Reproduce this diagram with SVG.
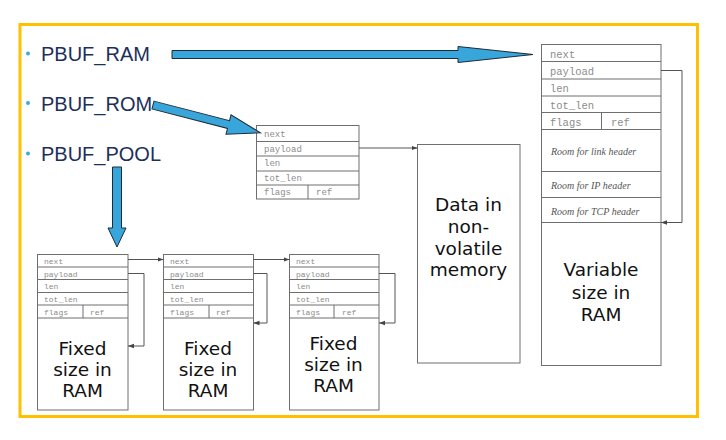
<svg xmlns="http://www.w3.org/2000/svg" width="726" height="440" viewBox="0 0 726 440">
<style>
.box{fill:#fff;stroke:#6f6f6f;stroke-width:1}
.ln{stroke:#6f6f6f;stroke-width:1;fill:none}
.mono{font-family:"Liberation Mono","DejaVu Sans Mono",monospace;fill:#8c8c8c}
.room{font-family:"Liberation Serif","DejaVu Serif",serif;font-style:italic;font-size:10px;fill:#555}
.big{font-family:"DejaVu Sans",Verdana,sans-serif;font-size:18.5px;fill:#111;text-anchor:middle}
.pb{font-family:"Liberation Sans",Arial,sans-serif;font-size:20px;fill:#1c2f5c}
.blue{fill:#38a6da;stroke:#1e2b38;stroke-width:1;stroke-linejoin:miter}
.conn{stroke:#555;stroke-width:1;fill:none}
</style>
<defs>
<marker id="ah" markerWidth="6" markerHeight="6" refX="6" refY="3" orient="auto" markerUnits="userSpaceOnUse">
<path d="M0,0.8 L6,3 L0,5.2 z" fill="#444"/>
</marker>
</defs>
<rect x="0" y="0" width="726" height="440" fill="#fff"/>
<rect x="20" y="24.5" width="677.5" height="392" fill="none" stroke="#ffc000" stroke-width="3"/>

<g id="labels">
<circle cx="28" cy="53.5" r="2" fill="#3fa9db"/>
<text class="pb" x="41" y="61">PBUF_RAM</text>
<circle cx="28" cy="103" r="2" fill="#3fa9db"/>
<text class="pb" x="41" y="110.5">PBUF_ROM</text>
<circle cx="28" cy="153.5" r="2" fill="#3fa9db"/>
<text class="pb" x="41" y="160.5">PBUF_POOL</text>
</g>

<g id="pbuf-ram">
<rect class="box" x="541.5" y="44.5" width="119.5" height="321"/>
<path class="ln" d="M541.5,61.5H661M541.5,79H661M541.5,96H661M541.5,112.5H661M541.5,129.5H661M541.5,171.5H661M541.5,197.5H661M541.5,222.5H661M601.5,112.5V129.5"/>
<g class="mono" font-size="10.5">
<text x="550" y="57.5">next</text>
<text x="550" y="75">payload</text>
<text x="550" y="92">len</text>
<text x="550" y="108.5">tot_len</text>
<text x="550" y="125.5">flags</text>
<text x="611" y="125.5">ref</text>
</g>
<text class="room" x="551" y="155">Room for link header</text>
<text class="room" x="551" y="188.5">Room for IP header</text>
<text class="room" x="551" y="215">Room for TCP header</text>
<text class="big" x="601" y="276">Variable</text>
<text class="big" x="601" y="298.5">size in</text>
<text class="big" x="601" y="321">RAM</text>
</g>

<g id="pbuf-rom">
<rect class="box" x="256.5" y="125.5" width="102.5" height="73.5"/>
<path class="ln" d="M256.5,141.5H359M256.5,156H359M256.5,171H359M256.5,185H359M308,185V199"/>
<g class="mono" font-size="9">
<text x="264" y="137">next</text>
<text x="264" y="151.5">payload</text>
<text x="264" y="166">len</text>
<text x="264" y="180.5">tot_len</text>
<text x="264" y="195">flags</text>
<text x="316" y="195">ref</text>
</g>
</g>

<g id="rom-data">
<rect class="box" x="417.5" y="144.5" width="102.5" height="218.5"/>
<text class="big" x="468.5" y="211">Data in</text>
<text class="big" x="468.5" y="233">non-</text>
<text class="big" x="468.5" y="255">volatile</text>
<text class="big" x="468.5" y="276">memory</text>
</g>

<g id="pool-1">
<rect class="box" x="37.5" y="254.5" width="90.5" height="155.5"/>
<path class="ln" d="M37.5,267H128M37.5,279.5H128M37.5,292.5H128M37.5,305H128M37.5,318H128M83,305V318"/>
<g class="mono" font-size="8">
<text x="44" y="263.5">next</text>
<text x="44" y="276.5">payload</text>
<text x="44" y="289">len</text>
<text x="44" y="302">tot_len</text>
<text x="44" y="315">flags</text>
<text x="90" y="315">ref</text>
</g>
<text class="big" x="82.5" y="355">Fixed</text>
<text class="big" x="82.5" y="376">size in</text>
<text class="big" x="82.5" y="397">RAM</text>
</g>

<g id="pool-2">
<rect class="box" x="163.5" y="254.5" width="90" height="155.5"/>
<path class="ln" d="M163.5,267H253.5M163.5,279.5H253.5M163.5,292.5H253.5M163.5,305H253.5M163.5,318H253.5M209,305V318"/>
<g class="mono" font-size="8">
<text x="170" y="263.5">next</text>
<text x="170" y="276.5">payload</text>
<text x="170" y="289">len</text>
<text x="170" y="302">tot_len</text>
<text x="170" y="315">flags</text>
<text x="216" y="315">ref</text>
</g>
<text class="big" x="208" y="355">Fixed</text>
<text class="big" x="208" y="376">size in</text>
<text class="big" x="208" y="397">RAM</text>
</g>

<g id="pool-3">
<rect class="box" x="289.5" y="254.5" width="89.5" height="155.5"/>
<path class="ln" d="M289.5,267H379M289.5,279.5H379M289.5,292.5H379M289.5,305H379M289.5,318H379M334,305V318"/>
<g class="mono" font-size="8">
<text x="296" y="263.5">next</text>
<text x="296" y="276.5">payload</text>
<text x="296" y="289">len</text>
<text x="296" y="302">tot_len</text>
<text x="296" y="315">flags</text>
<text x="342" y="315">ref</text>
</g>
<text class="big" x="333.5" y="350">Fixed</text>
<text class="big" x="333.5" y="371">size in</text>
<text class="big" x="333.5" y="392">RAM</text>
</g>

<g id="connectors">
<polygon class="blue" points="172,50.5 458,50.5 458,46.5 533,54.5 458,62.5 458,58.5 172,58.5"/>
<polygon class="blue" transform="translate(153,105) rotate(14.5)" points="0,-4 78,-4 78,-10 111,0 78,10 78,4 0,4"/>
<polygon class="blue" points="112.5,167 121.5,167 121.5,228 126,228 117,247 108,228 112.5,228"/>
<path class="conn" d="M661,70.5H682V222.5H661" marker-end="url(#ah)"/>
<path class="conn" d="M359,148H417.5" marker-end="url(#ah)"/>
<path class="conn" d="M128,259.5H163.5" marker-end="url(#ah)"/>
<path class="conn" d="M253.5,259.5H289.5" marker-end="url(#ah)"/>
<path class="conn" d="M128,273.5H144V346H128" marker-end="url(#ah)"/>
<path class="conn" d="M253.5,273.5H267V323H253.5" marker-end="url(#ah)"/>
<path class="conn" d="M379,273.5H395V323H379" marker-end="url(#ah)"/>
</g>
</svg>
